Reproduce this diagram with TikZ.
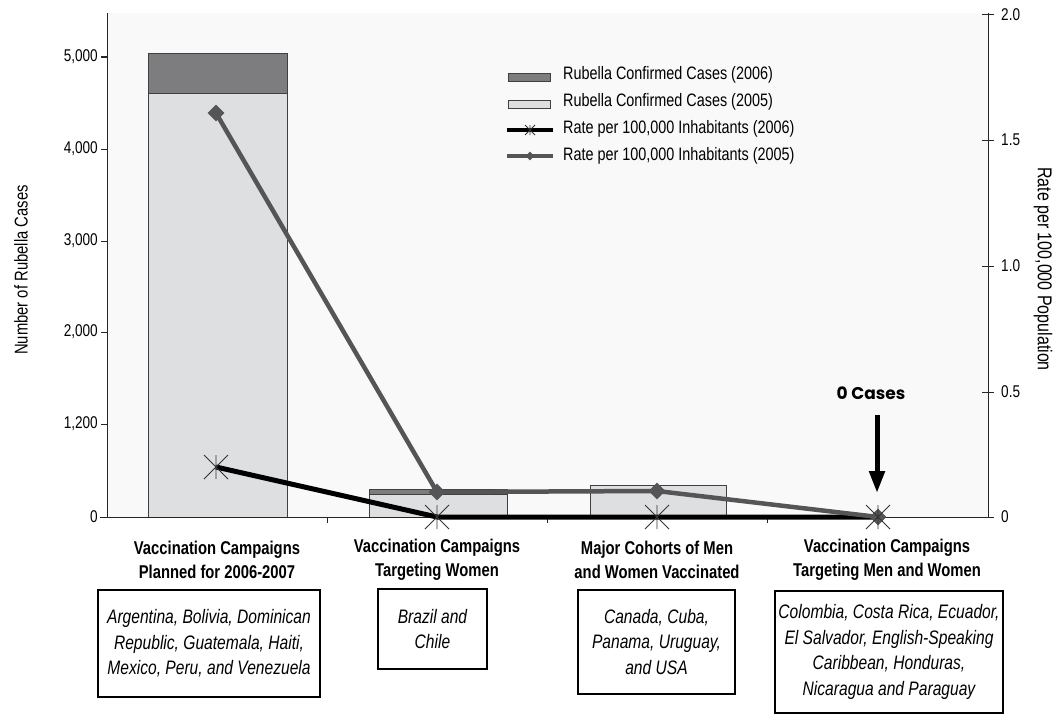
\documentclass[tikz,border=0pt]{standalone}
\usepackage{fontspec}
\setmainfont{Liberation Sans}[FakeStretch=0.8]
\newfontfamily\casesfont{Poppins}
\usetikzlibrary{shapes.geometric,arrows.meta,positioning,calc}

\definecolor{bar05}{RGB}{222,223,225}
\definecolor{bar06}{RGB}{125,125,128}
\definecolor{rate05col}{RGB}{85,85,88}
\definecolor{plotbg}{RGB}{249,249,249}

\tikzstyle{barbox} = [draw=black!75, line width=1pt]
\tikzstyle{axis} = [draw=black!85, line width=1pt]
\tikzstyle{ticklabel} = [font=\fontsize{17}{20}\selectfont, inner sep=0pt]
\tikzstyle{axistitle} = [font=\fontsize{18.5}{20}\selectfont, inner sep=0pt]
\tikzstyle{legendtext} = [font=\fontsize{18}{20}\selectfont, anchor=west, inner sep=0pt]
\tikzstyle{category} = [font=\bfseries\fontsize{18.5}{24}\selectfont, align=center, inner sep=0pt]
\tikzstyle{countrybox} = [draw, line width=2pt, font=\itshape\fontsize{19.5}{25.5}\selectfont,
    align=center, inner sep=0pt]
\tikzstyle{rate05} = [draw=rate05col, line width=4.5pt]
\tikzstyle{rate06} = [draw=black, line width=5pt]
\tikzstyle{diamond05} = [diamond, fill=rate05col, inner sep=0pt, minimum size=17pt]
\tikzstyle{starline} = [draw=black!80, line width=0.8pt]
\tikzstyle{zeroarrow} = [draw, line width=5pt, -{Triangle[length=22pt,width=15pt]}]

% asterisk marker of the 2006 rate
\newcommand{\ratestar}[2][12]{\draw[starline] (#2) +(-#1,-#1) -- +(#1,#1)
    +(-#1,#1) -- +(#1,-#1) +(0,-#1) -- +(0,#1);}

\begin{document}
\begin{tikzpicture}[x=1pt, y=-1pt]
    \useasboundingbox (0,0) rectangle (1064,717);
    \fill[plotbg] (107,13) rectangle (988,517);

    % Bars
    \path[barbox, fill=bar05] (148,517) rectangle (287,93);
    \path[barbox, fill=bar06] (148,93) rectangle (287,54);
    \path[barbox, fill=bar05] (369,517) rectangle (507,494);
    \path[barbox, fill=bar06] (369,494) rectangle (507,489);
    \path[barbox, fill=bar05] (590,517) rectangle (726,485);

    % Axes
    \path[axis] (107,13) -- (107,517);
    \path[axis] (988,13) -- (988,517);
    \path[axis] (100,517) -- (994,517);
    \path[axis] (101,57) -- (107,57);
    \path[axis] (101,149) -- (107,149);
    \path[axis] (101,241) -- (107,241);
    \path[axis] (101,332) -- (107,332);
    \path[axis] (101,424) -- (107,424);
    \path[axis] (982,15) -- (994,15);
    \path[axis] (982,140) -- (994,140);
    \path[axis] (982,266) -- (994,266);
    \path[axis] (982,392) -- (994,392);
    \path[axis] (327,517) -- (327,523);
    \path[axis] (547,517) -- (547,523);
    \path[axis] (767,517) -- (767,523);

    \node[ticklabel, anchor=east] (l5000) at (98,57) {5,000};
    \node[ticklabel, anchor=east] (l4000) at (98,149) {4,000};
    \node[ticklabel, anchor=east] (l3000) at (98,241) {3,000};
    \node[ticklabel, anchor=east] (l2000) at (98,332) {2,000};
    \node[ticklabel, anchor=east] (l1200) at (98,424) {1,200};
    \node[ticklabel, anchor=east] (l0) at (98,517) {0};
    \node[ticklabel, anchor=west] (r20) at (1001,15) {2.0};
    \node[ticklabel, anchor=west] (r15) at (1001,140) {1.5};
    \node[ticklabel, anchor=west] (r10) at (1001,266) {1.0};
    \node[ticklabel, anchor=west] (r05) at (1001,392) {0.5};
    \node[ticklabel, anchor=west] (r0) at (1001,517) {0};

    \node[axistitle, rotate=90] (cases_title) at (21,270) {Number of Rubella Cases};
    \node[axistitle, rotate=-90, font=\fontsize{20}{22}\selectfont] (rate_title) at (1043,269) {Rate per 100,000 Population};

    % Rates
    \coordinate (p05a) at (216,113);
    \coordinate (p05b) at (437,492);
    \coordinate (p05c) at (657,491);
    \coordinate (p05d) at (878,517);
    \coordinate (p06a) at (216,467);
    \coordinate (p06b) at (437,517);
    \coordinate (p06c) at (657,517);
    \coordinate (p06d) at (878,517);

    \path[rate06] (p06a) -- (p06b) -- (p06c) -- (p06d);
    \path[rate05] (p05a) -- (p05b) -- (p05c) -- (p05d);
    \node[diamond05] (m05a) at (p05a) {};
    \node[diamond05] (m05b) at (p05b) {};
    \node[diamond05] (m05c) at (p05c) {};
    \node[diamond05] (m05d) at (p05d) {};
    \ratestar{p06a}
    \ratestar{p06b}
    \ratestar{p06c}
    \ratestar{p06d}

    % Legend
    \path[barbox, fill=bar06] (508,73) rectangle (550,81);
    \path[barbox, fill=bar05] (508,100) rectangle (550,108);
    \coordinate (leg06a) at (507,130);
    \coordinate (leg06b) at (553,130);
    \coordinate (leg05a) at (507,156);
    \coordinate (leg05b) at (553,156);
    \coordinate (leg06m) at ($(leg06a)!0.5!(leg06b)$);
    \path[rate06, line width=3.5pt] (leg06a) -- (leg06b);
    \ratestar[5]{leg06m}
    \path[rate05, line width=3.5pt] (leg05a) -- (leg05b);
    \node[diamond05, minimum size=9pt] (leg05m) at ($(leg05a)!0.5!(leg05b)$) {};
    \node[legendtext] (leg_c06) at (563,75) {Rubella Confirmed Cases (2006)};
    \node[legendtext] (leg_c05) at (563,102) {Rubella Confirmed Cases (2005)};
    \node[legendtext] (leg_r06) at (563,129) {Rate per 100,000 Inhabitants (2006)};
    \node[legendtext] (leg_r05) at (563,156) {Rate per 100,000 Inhabitants (2005)};

    % Zero cases
    \node[font=\casesfont\bfseries\fontsize{17}{19}\selectfont, inner sep=0pt] (zerocases) at (871,393) {0 Cases};
    \coordinate (arrowtop) at (877,415);
    \coordinate (arrowtip) at (877,493);
    \path[zeroarrow] (arrowtop) -- (arrowtip);

    % Categories
    \node[category] (planned) at (217,560) {Vaccination Campaigns\\Planned for 2006-2007};
    \node[category] (women) at (437,560) {Vaccination Campaigns\\Targeting Women};
    \node[category] (cohorts) at (657,560) {Major Cohorts of Men\\and Women Vaccinated};
    \node[category] (menwomen) at (887,560) {Vaccination Campaigns\\Targeting Men and Women};

    \node[countrybox, minimum width=222pt, minimum height=107pt] (planned_box) at (209,643.5)
        {Argentina, Bolivia, Dominican\\Republic, Guatemala, Haiti,\\Mexico, Peru, and Venezuela};
    \node[countrybox, minimum width=109pt, minimum height=80pt] (women_box) at (432.5,629)
        {Brazil and\\Chile};
    \node[countrybox, minimum width=157pt, minimum height=104pt] (cohorts_box) at (656.5,642)
        {Canada, Cuba,\\Panama, Uruguay,\\and USA};
    \node[countrybox, minimum width=228pt, minimum height=122pt] (menwomen_box) at (889,652)
        {Colombia, Costa Rica, Ecuador,\\El Salvador, English-Speaking\\Caribbean, Honduras,\\Nicaragua and Paraguay};
\end{tikzpicture}
\end{document}
